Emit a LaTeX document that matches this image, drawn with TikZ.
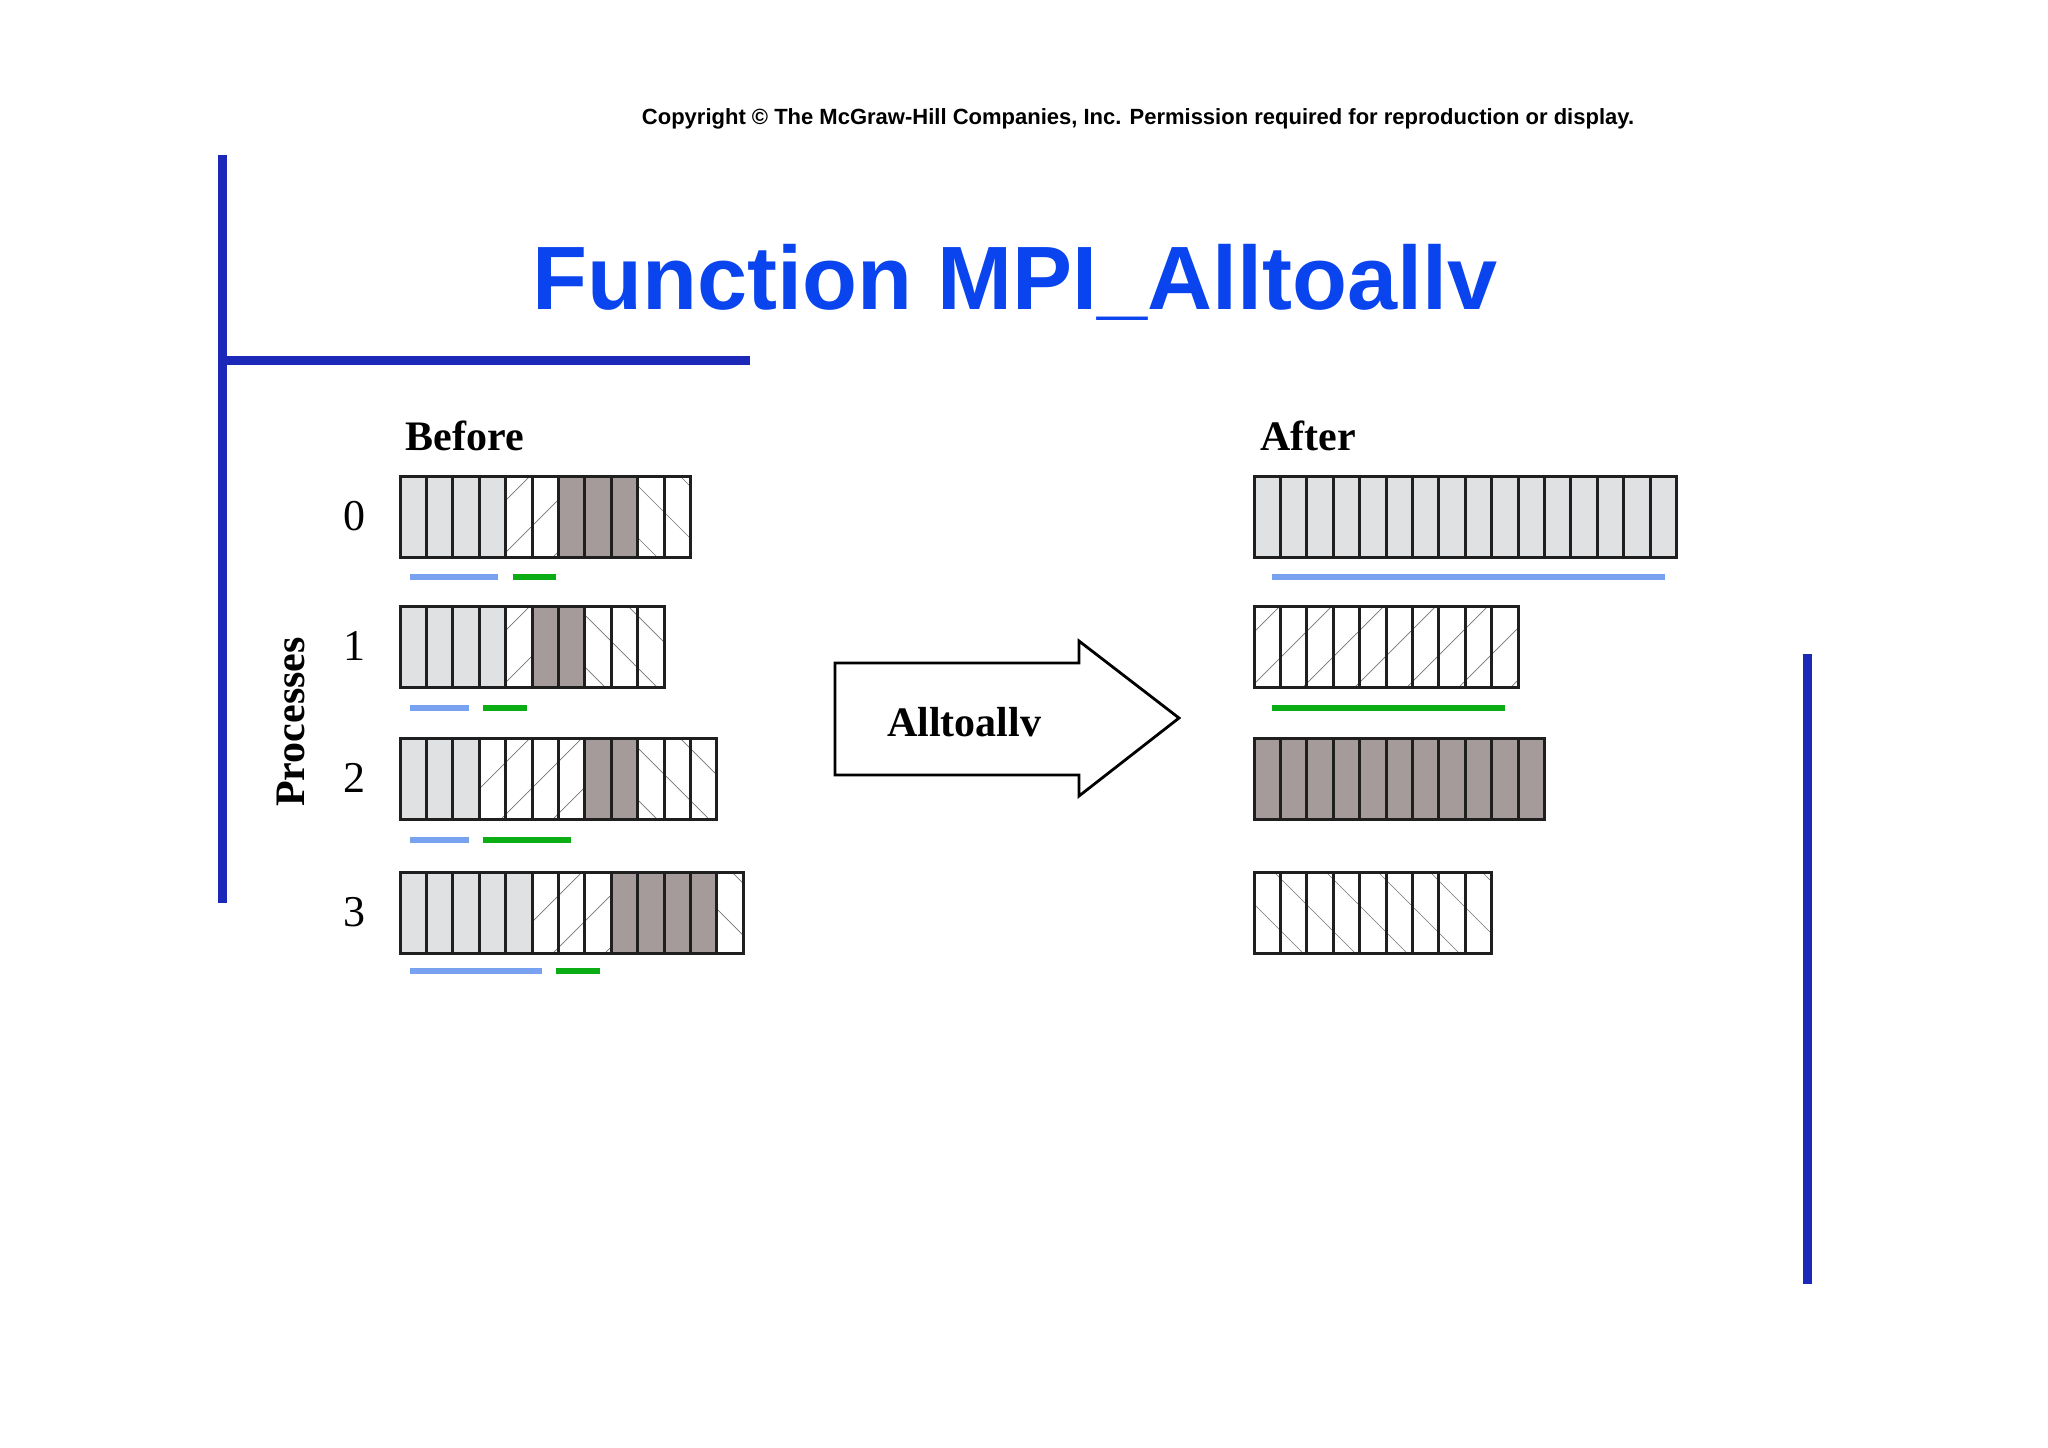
\documentclass[tikz,border=0pt]{standalone}
\usepackage{fontspec}
\setmainfont{Liberation Serif}
\setsansfont{Liberation Sans}
\begin{document}
\begin{tikzpicture}[x=0.5pt,y=-0.5pt,
  cellborder/.style={draw=black!88,line width=1.5pt,line join=miter},
  hatchline/.style={draw=black!55,line width=0.35pt},
  blueline/.style={draw=blue!20!black!0!cyan!0!, line width=2.6pt},
  ubar/.style={line width=2.6pt},
  frame/.style={draw=barblue,line width=4.5pt}]
\definecolor{barblue}{HTML}{1B28B8}
\definecolor{titleblue}{HTML}{0A44EE}
\definecolor{lightc}{HTML}{E0E1E3}
\definecolor{darkc}{HTML}{A69B9B}
\definecolor{ublue}{HTML}{78A2F0}
\definecolor{ugreen}{HTML}{0AAE14}
\useasboundingbox (0,0) rectangle (2048,1447);
\newcommand\cellrow[3]{%
 \foreach \t [count=\i from 0] in {#3} {
  \pgfmathsetmacro\cx{#1+\i*26.4}
  \if L\t \fill[lightc] (\cx,#2) rectangle ++(26.4,81);\fi
  \if D\t \fill[darkc] (\cx,#2) rectangle ++(26.4,81);\fi
  \if F\t \begin{scope}\clip (\cx,#2) rectangle ++(26.4,81);
     \foreach \m in {0,...,22}{\draw[hatchline] ({#1+\m*52-26},#2) -- ++(-81,81);}\end{scope}\fi
  \if B\t \begin{scope}\clip (\cx,#2) rectangle ++(26.4,81);
     \foreach \m in {-4,...,18}{\draw[hatchline] ({#1+\m*52+20},#2) -- ++(81,81);}\end{scope}\fi
  \draw[cellborder] (\cx,#2) rectangle ++(26.4,81);
 }}
% frame bars
\draw[frame] (222,155) -- (222,903);
\draw[frame] (220,360) -- (750,360);
\draw[frame] (1807,654) -- (1807,1284);
% texts
\node[font=\sffamily\bfseries\fontsize{11}{13}\selectfont] (copy) at (1138,119) {Copyright \textcopyright{} The McGraw-Hill Companies, Inc. Permission required for reproduction or display.};
\node[font=\sffamily\bfseries\fontsize{45}{50}\selectfont,text=titleblue] (title) at (1015,282) {Function MPI\_Alltoallv};
\node[font=\bfseries\fontsize{21}{24}\selectfont] (before) at (465,436) {Before};
\node[font=\bfseries\fontsize{21}{24}\selectfont] (after) at (1308,436) {After};
\node[font=\bfseries\fontsize{21}{24}\selectfont,rotate=90] (proc) at (291,722) {Processes};
\foreach \d/\yy in {0/516,1/646,2/778,3/912}
  \node[font=\fontsize{22}{24}\selectfont] (p\d) at (354,\yy) {\d};
% before rows
\cellrow{400}{476}{L,L,L,L,F,F,D,D,D,B,B}
\cellrow{400}{606}{L,L,L,L,F,D,D,B,B,B}
\cellrow{400}{738}{L,L,L,F,F,F,F,D,D,B,B,B}
\cellrow{400}{872}{L,L,L,L,L,F,F,F,D,D,D,D,B}
% after rows
\cellrow{1254}{476}{L,L,L,L,L,L,L,L,L,L,L,L,L,L,L,L}
\cellrow{1254}{606}{F,F,F,F,F,F,F,F,F,F}
\cellrow{1254}{738}{D,D,D,D,D,D,D,D,D,D,D}
\cellrow{1254}{872}{B,B,B,B,B,B,B,B,B}
% underlines
\draw[ubar,ublue] (410,577) -- (498,577); \draw[ubar,ugreen] (513,577) -- (556,577);
\draw[ubar,ublue] (410,708) -- (469,708); \draw[ubar,ugreen] (483,708) -- (527,708);
\draw[ubar,ublue] (410,840) -- (469,840); \draw[ubar,ugreen] (483,840) -- (571,840);
\draw[ubar,ublue] (410,971) -- (542,971); \draw[ubar,ugreen] (556,971) -- (600,971);
\draw[ubar,ublue] (1272,577) -- (1665,577);
\draw[ubar,ugreen] (1272,708) -- (1505,708);
% arrow
\draw[line width=1.4pt,line join=miter,fill=white] (835,663) -- (1079,663) -- (1079,641) -- (1179,718) -- (1079,796) -- (1079,775) -- (835,775) -- cycle;
\node[font=\bfseries\fontsize{21}{24}\selectfont] (alltoall) at (964,722) {Alltoallv};
\end{tikzpicture}
\end{document}
